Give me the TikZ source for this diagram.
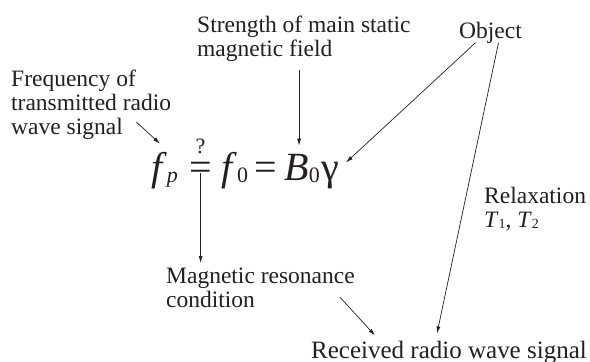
\documentclass[tikz,border=0pt]{standalone}
\usepackage{fontspec}
\setmainfont{Liberation Serif}
\usetikzlibrary{arrows.meta,positioning,calc}
\definecolor{ink}{HTML}{231F20}
\newcommand{\lowsub}[1]{\raisebox{-2pt}{\fontsize{22}{22}\selectfont #1}}
\newcommand{\tinysub}[1]{\raisebox{-1pt}{\fontsize{14}{14}\selectfont #1}}
\tikzset{
  caption/.style={font=\fontsize{23.5}{24}\selectfont,text=ink,align=left,inner sep=0pt,anchor=north west},
  term/.style={font=\fontsize{40}{40}\selectfont,text=ink,inner sep=0pt},
  qmark/.style={font=\fontsize{22}{22}\selectfont,text=ink,inner sep=0pt},
  flow/.style={-{Latex[length=7pt,width=4pt]},line width=0.7pt,draw=ink}
}

\begin{document}
\begin{tikzpicture}[x=1pt,y=1pt]
\useasboundingbox (0,0) rectangle (590,-362);

% labels round the equation
\node[caption] (freq) at (11,-70) {Frequency of\\transmitted radio\\wave signal};
\node[caption] (strength) at (197,-16) {Strength of main static\\magnetic field};
\node[caption] (object) at (459,-22) {Object};
\node[caption] (relax) at (484,-187) {Relaxation\\\textit{T}\tinysub{1}, \textit{T}\tinysub{2}};
\node[caption] (mrc) at (166,-268) {Magnetic resonance\\condition};
\node[caption,anchor=base west,font=\fontsize{25}{26}\selectfont] (recv) at (311,-358) {Received radio wave signal};

% equation
\node[term,anchor=base west] (fp) at (151,-180) {\textit{f}\lowsub{\textit{p}}};
\node[term,base right=11pt of fp] (eqq) {=};
\node[qmark,above=8pt of eqq] (qm) {?};
\node[term,base right=9pt of eqq] (fz) {\textit{f}\lowsub{0}};
\node[term,base right=6pt of fz] (eqb) {=};
\node[term,base right=7pt of eqb] (bz) {\textit{B}\lowsub{0}};
\node[term,base right=1pt of bz] (gam) {γ};

% arrows
\draw[flow] ($(freq.south east)+(-35,18)$) -- ($(fp.north west)+(9,8)$);
\draw[flow] ($(strength.south -| bz.north)+(-3,-8)$) -- ($(bz.north)+(-3,8)$);
\draw[flow] ($(object.south)+(-15,1)$) -- ($(gam.north east)+(7,-1)$);
\draw[flow] ($(object.south)+(8,1)$) -- ($(recv.north)+(-12,7)$);
\draw[flow] ($(eqq.south)+(0,7)$) -- ($(eqq.south |- mrc.north)+(0,5)$);
\draw[flow] ($(mrc.south east)+(-15,11)$) -- ($(recv.north west)+(64,5)$);
\end{tikzpicture}
\end{document}
